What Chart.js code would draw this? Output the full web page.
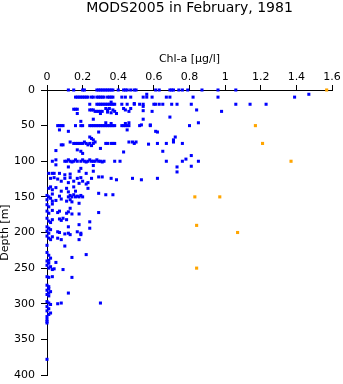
<!DOCTYPE html>
<html>
<head>
<meta charset="utf-8">
<script src="https://cdn.jsdelivr.net/npm/chart.js@4.4.0/dist/chart.umd.min.js"></script>
<style>
html,body{margin:0;padding:0;background:#fff;}
#wrap{width:343px;height:384px;position:relative;}
</style>
</head>
<body>
<div id="wrap"><canvas id="c"></canvas></div>
<script>
const titleText = 'MODS2005 in February, 1981';
const xTitle = 'Chl-a [µg/l]';
const yTitle = 'Depth [m]';
const xTicks = [0, 0.2, 0.4, 0.6, 0.8, 1, 1.2, 1.4, 1.6];
const yTicks = [0, 50, 100, 150, 200, 250, 300, 350, 400];

// MODS2005 observations (Chl-a, depth)
const blueChl = [
  0.12,0.15,0.20,0.21,0.28,0.29,0.30,0.31,0.32,0.33,0.34,0.35,0.36,0.37,0.40,0.43,0.44,0.45,0.47,0.49,0.50,0.61,0.63,0.69,0.70,0.71,0.74,0.76,0.79,0.87,0.96,1.06,
  0.56,1.47,
  0.16,0.17,0.18,0.19,0.20,0.21,0.22,0.23,0.25,0.26,0.28,0.29,0.30,0.31,0.32,0.34,0.35,0.36,0.37,0.42,0.44,0.47,0.54,0.56,0.59,0.67,0.69,0.82,0.96,1.39,
  0.36,0.49,0.52,0.54,
  0.24,0.28,0.29,0.30,0.31,0.32,0.33,0.34,0.35,0.36,0.37,0.38,0.42,0.45,0.49,0.54,0.60,0.61,0.63,0.65,0.70,0.73,0.81,1.06,1.14,1.23,
  0.15,0.16,0.17,0.17,0.24,0.25,0.26,0.27,0.28,0.29,0.30,0.31,0.33,0.34,0.34,0.35,0.36,0.37,0.38,0.39,0.43,0.44,0.46,0.47,0.54,0.59,0.84,0.98,0.30,
  0.69,0.54,0.26,0.19,0.33,0.36,0.44,0.46,0.85,0.53,0.58,
  0.06,0.07,0.08,0.09,0.16,0.19,0.20,0.24,0.25,0.26,0.27,0.28,0.29,0.30,0.31,0.32,0.33,0.34,0.35,0.36,0.37,0.38,0.42,0.43,0.44,0.45,0.46,0.52,0.58,0.80,
  0.07,0.12,0.29,0.45,0.61,0.62,
  0.24,0.25,0.26,0.72,0.71,
  0.08,0.09,0.13,0.15,0.16,0.17,0.18,0.19,0.20,0.21,0.22,0.23,0.24,0.25,0.26,0.27,0.30,0.33,0.34,0.36,0.37,0.38,0.46,0.48,0.49,0.50,0.57,0.62,0.67,0.71,0.76,
  0.05,0.17,0.19,0.20,0.43,0.65,
  0.03,0.05,0.10,0.11,0.12,0.13,0.14,0.15,0.16,0.17,0.19,0.20,0.21,0.22,0.23,0.24,0.25,0.26,0.27,0.28,0.29,0.30,0.31,0.32,0.38,0.41,0.67,0.76,0.78,0.81,0.85,
  0.05,0.12,0.19,0.26,0.73,0.81,
  0.01,0.03,0.04,0.07,0.10,0.13,0.18,0.22,0.26,0.73,
  0.29,0.31,0.36,0.39,0.48,0.53,0.62,0.02,0.04,0.06,0.08,0.10,0.12,0.13,0.15,0.17,0.18,0.19,0.20,0.22,0.23,0.25,
  0.01,0.02,0.03,0.05,0.11,0.15,0.23,0.08,0.12,0.16,
  0.00,0.01,0.03,0.07,0.12,0.13,0.14,0.15,0.16,0.17,0.18,0.19,0.20,0.29,0.33,0.37,
  0.00,0.02,0.03,0.05,0.08,0.11,0.13,0.14,0.18,
  0.00,0.01,0.03,0.13,
  0.00,0.01,0.03,0.06,0.07,0.11,0.12,0.14,0.18,0.29,
  0.00,0.01,0.02,0.03,0.07,0.08,0.09,0.11,0.18,0.24,
  0.00,0.01,0.02,0.12,0.24,
  0.00,0.01,0.06,0.07,0.10,0.12,0.13,0.17,0.19,0.19,
  0.00,0.01,0.02,0.03,0.06,0.08,0.18,
  0.00,0.10,
  0.00,0.01,0.02,0.01,0.14,0.22,
  0.00,0.01,0.00,0.02,0.01,0.03,0.05,0.04,0.09,
  0.00,0.01,0.03,0.14,
  0.00,0.01,0.01,0.00,0.02,0.01,0.00,0.01,0.12,
  0.00,0.01,0.02,0.06,0.08,0.30,
  0.00,0.01,0.00,0.02,0.01,
  0.00,0.00,0.00,0.00,0.00
];
const blueDepth = [
  0,0,0,0,0,0,0,0,0,0,0,0,0,0,0,0,0,0,0,0,0,0,0,0,0,0,0,0,0,0,0,0,
  6,6,
  10,10,10,10,10,10,10,10,10,10,10,10,10,10,10,10,10,10,10,10,10,10,10,10,10,10,10,10,10,10,
  17,19,20,23,
  20,20,20,20,20,20,20,20,20,20,20,20,20,20,20,20,20,20,20,20,20,20,20,20,20,20,
  27,27,27,33,28,28,28,30,30,30,30,30,26,28,31,26,32,28,30,33,26,28,30,26,29,30,28,30,33,
  38,41,41,44,46,47,47,46,46,49,49,
  50,50,50,50,50,50,50,50,50,50,50,50,50,50,50,50,50,50,50,50,50,50,50,50,50,50,50,50,50,50,
  56,58,59,56,58,59,
  66,68,70,66,70,
  77,77,73,75,75,75,75,75,75,73,75,77,75,78,75,73,82,75,75,75,75,75,73,73,75,73,76,75,75,73,75,
  85,84,86,89,87,86,
  100,98,100,100,98,100,101,100,98,100,100,98,100,101,100,98,100,100,100,98,100,100,101,100,100,100,100,100,97,92,100,
  105,108,110,106,108,107,
  117,117,117,117,119,118,114,117,114,115,
  122,122,124,126,124,126,124,124,123,125,128,124,130,123,128,124,131,123,128,132,130,124,
  138,136,140,137,138,136,138,142,143,142,
  148,150,146,149,150,148,150,147,150,149,150,148,150,145,147,147,
  154,152,156,155,153,156,154,157,159,
  161,164,160,166,
  170,173,169,172,170,173,171,174,174,172,
  180,184,186,182,181,183,180,182,189,185,
  192,194,196,192,194,
  198,201,199,200,202,201,203,199,201,203,
  205,208,210,206,208,210,210,
  218,219,
  228,232,236,239,235,231,
  240,243,246,248,250,252,242,251,252,
  262,263,262,263,
  274,276,279,281,283,285,287,289,285,
  297,299,301,300,299,299,
  304,307,310,313,315,
  318,322,325,327,378
];

// second group (orange)
const orangeChl = [1.57, 1.17, 1.21, 1.37, 0.83, 0.97, 0.84, 1.07, 0.84];
const orangeDepth = [0, 50, 75, 100, 150, 150, 190, 200, 250];

const FONT = 'DejaVu Sans';
const toPts = (xs, ys) => xs.map((v, i) => ({ x: v, y: ys[i] }));
const fmt = v => String(Math.round(v * 10) / 10);

new Chart(document.getElementById('c'), {
  type: 'scatter',
  data: {
    datasets: [
      { label: 'MODS2005', data: toPts(blueChl, blueDepth), backgroundColor: '#0000ff',
        borderWidth: 0, pointStyle: 'rect', pointRadius: 2.15, pointHoverRadius: 2.15, clip: false },
      { label: 'other', data: toPts(orangeChl, orangeDepth), backgroundColor: '#ffa500',
        borderWidth: 0, pointStyle: 'rect', pointRadius: 2.2, pointHoverRadius: 2.2, clip: false }
    ]
  },
  options: {
    responsive: true,
    maintainAspectRatio: false,
    animation: false,
    events: [],
    layout: { autoPadding: false, padding: { left: 0, right: 11, top: 0, bottom: 9 } },
    plugins: {
      legend: { display: false },
      tooltip: { enabled: false },
      title: {
        display: true, text: titleText, fullSize: false, color: '#000',
        font: { family: FONT, size: 14, weight: 'normal', lineHeight: 1 },
        padding: { top: 1.5, bottom: 4.5 }
      }
    },
    scales: {
      x: {
        type: 'linear', position: 'top', min: 0, max: 1.6,
        afterBuildTicks: s => { s.ticks = xTicks.map(v => ({ value: v })); },
        ticks: { color: '#000', font: { family: FONT, size: 11 }, padding: 1, maxRotation: 0, autoSkip: false, callback: v => fmt(v) },
        grid: { drawOnChartArea: false, drawTicks: true, tickLength: 5, color: '#000', lineWidth: 1 },
        border: { display: true, color: '#000', width: 1 },
        title: { display: true, text: xTitle, color: '#000', font: { family: FONT, size: 11, lineHeight: 1.2 }, padding: { top: 33, bottom: 0 } },
        afterFit: s => { s.height = 70; s.paddingLeft = 0; s.paddingRight = 0; }
      },
      y: {
        type: 'linear', position: 'left', reverse: true, min: 0, max: 400,
        afterBuildTicks: s => { s.ticks = yTicks.map(v => ({ value: v })); },
        ticks: { color: '#000', font: { family: FONT, size: 11 }, padding: 6, autoSkip: false },
        grid: { drawOnChartArea: false, drawTicks: true, tickLength: 6, color: '#000', lineWidth: 1 },
        border: { display: true, color: '#000', width: 1 },
        title: { display: true, text: yTitle, color: '#000', font: { family: FONT, size: 11, lineHeight: 1 }, padding: { top: 0, bottom: 0 } },
        afterFit: s => { s.width = 47; s.paddingTop = 0; s.paddingBottom = 0; }
      }
    }
  }
});
</script>
</body>
</html>
